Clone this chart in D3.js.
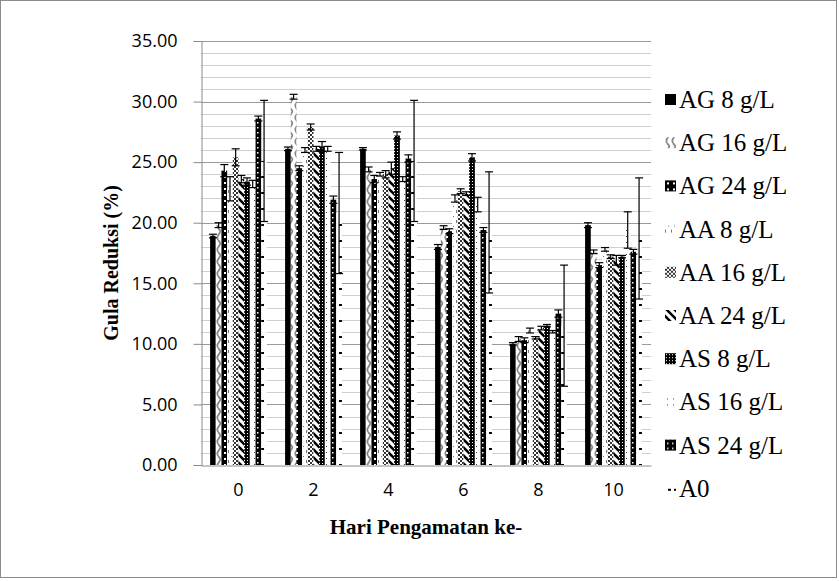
<!DOCTYPE html>
<html>
<head>
<meta charset="utf-8">
<script src="https://cdn.jsdelivr.net/npm/d3@7"></script>
<style>
  body { margin: 0; background: #fff; }
</style>
</head>
<body>
<div id="chart"></div>
<script>
// days of observation (x categories)
const days = ["0", "2", "4", "6", "8", "10"];
const seriesNames = ["AG 8 g/L", "AG 16 g/L", "AG 24 g/L", "AA 8 g/L", "AA 16 g/L",
  "AA 24 g/L", "AS 8 g/L", "AS 16 g/L", "AS 24 g/L", "A0"];
const yTicks = [0, 5, 10, 15, 20, 25, 30, 35];

// reducing sugar (%) per series, per day
const ag8 = [18.9, 26.1, 26.1, 18.0, 10.0, 19.8];
const ag16 = [19.8, 30.4, 24.4, 19.6, 10.4, 17.6];
const ag24 = [24.3, 24.5, 23.6, 19.3, 10.3, 16.5];
const aa8 = [22.8, 26.0, 24.0, 22.0, 11.1, 17.8];
const aa16 = [25.4, 27.9, 24.0, 22.6, 10.5, 17.2];
const aa24 = [23.6, 26.1, 24.5, 22.4, 11.3, 16.9];
const as8 = [23.4, 26.3, 27.2, 25.4, 11.5, 17.2];
const as16 = [23.2, 26.1, 23.6, 21.5, 11.0, 19.4];
const as24 = [28.6, 21.9, 25.3, 19.4, 12.5, 17.6];
const a0 = [25.1, 20.8, 25.1, 19.2, 11.5, 18.7];

// error bar half widths
const ag8Err = [0.15, 0.15, 0.1, 0.2, 0.1, 0.2];
const ag16Err = [0.2, 0.2, 0.2, 0.15, 0.2, 0.15];
const ag24Err = [0.5, 0.2, 0.3, 0.2, 0.2, 0.2];
const aa8Err = [1.0, 0.2, 0.15, 0.3, 0.2, 0.15];
const aa16Err = [0.7, 0.25, 0.3, 0.2, 0.1, 0.15];
const aa24Err = [0.3, 0.2, 0.5, 0.15, 0.15, 0.4];
const as8Err = [0.3, 0.4, 0.3, 0.3, 0.1, 0.1];
const as16Err = [0.3, 0.2, 0.2, 0.6, 0.1, 1.5];
const as24Err = [0.2, 0.3, 0.3, 0.2, 0.3, 0.2];
const a0Err = [5.0, 5.0, 5.0, 5.0, 5.0, 5.0];

const allValues = [ag8, ag16, ag24, aa8, aa16, aa24, as8, as16, as24, a0];
const allErrors = [ag8Err, ag16Err, ag24Err, aa8Err, aa16Err, aa24Err, as8Err, as16Err, as24Err, a0Err];

// flatten into one row per bar
const data = [];
days.forEach((d, i) => {
  seriesNames.forEach((s, j) => {
    data.push({ day: d, series: s, idx: j, value: allValues[j][i], err: allErrors[j][i] });
  });
});

const width = 839, height = 581;
const plot = { left: 201, top: 41, right: 651, bottom: 465 };

const svg = d3.select("#chart").append("svg")
  .attr("width", width)
  .attr("height", height);

// pattern fills, one per series (grayscale like the original)
const defs = svg.append("defs");
function pat(id, w, h, draw) {
  const p = defs.append("pattern").attr("id", id)
    .attr("patternUnits", "userSpaceOnUse").attr("width", w).attr("height", h);
  draw(p);
}
pat("p0", 4, 4, p => p.append("rect").attr("width", 4).attr("height", 4).attr("fill", "#000"));
pat("p1", 6, 12, p => {
  p.append("rect").attr("width", 6).attr("height", 12).attr("fill", "#fff");
  p.append("path").attr("d", "M2,0 C5,3 5,3 3,6 C1,9 1,9 2,12").attr("fill", "none").attr("stroke", "#888").attr("stroke-width", 1.8);
});
pat("p2", 6, 6, p => {
  p.append("rect").attr("width", 6).attr("height", 6).attr("fill", "#000");
  p.append("rect").attr("x", 2).attr("y", 2).attr("width", 2).attr("height", 2).attr("fill", "#fff");
});
pat("p3", 6, 10, p => {
  p.append("rect").attr("width", 6).attr("height", 10).attr("fill", "#fff");
  p.append("rect").attr("x", 0).attr("y", 0).attr("width", 1).attr("height", 3).attr("fill", "#777");
  p.append("rect").attr("x", 3).attr("y", 6).attr("width", 1).attr("height", 1).attr("fill", "#777");
});
pat("p4", 4, 4, p => {
  p.append("rect").attr("width", 4).attr("height", 4).attr("fill", "#fff");
  p.append("rect").attr("width", 2).attr("height", 2).attr("fill", "#333");
  p.append("rect").attr("x", 2).attr("y", 2).attr("width", 2).attr("height", 2).attr("fill", "#333");
});
pat("p5", 8, 8, p => {
  p.append("rect").attr("width", 8).attr("height", 8).attr("fill", "#fff");
  p.append("path").attr("d", "M-2,-2 L10,10 M-2,6 L2,10 M6,-2 L10,2").attr("stroke", "#000").attr("stroke-width", 2.6);
});
pat("p6", 3, 3, p => {
  p.append("rect").attr("width", 3).attr("height", 3).attr("fill", "#000");
  p.append("rect").attr("x", 1).attr("y", 1).attr("width", 1).attr("height", 1).attr("fill", "#fff");
});
pat("p7", 6, 6, p => {
  p.append("rect").attr("width", 6).attr("height", 6).attr("fill", "#fff");
  p.append("rect").attr("x", 2).attr("y", 2).attr("width", 1).attr("height", 1).attr("fill", "#444");
});
pat("p8", 5, 5, p => {
  p.append("rect").attr("width", 5).attr("height", 5).attr("fill", "#000");
  p.append("rect").attr("x", 2).attr("y", 2).attr("width", 1.5).attr("height", 1.5).attr("fill", "#fff");
});
pat("p9", 6, 16, p => {
  p.append("rect").attr("width", 6).attr("height", 16).attr("fill", "#fff");
  p.append("rect").attr("x", 3).attr("y", 0).attr("width", 3).attr("height", 2).attr("fill", "#000");
});

// outer frame
svg.append("rect")
  .attr("x", 0.5).attr("y", 0.5)
  .attr("width", 836).attr("height", 577)
  .attr("fill", "none").attr("stroke", "#8c8c8c");

// scales
const x0 = d3.scaleBand().domain(days).range([plot.left, plot.right]).padding(0);
const x1 = d3.scaleBand().domain(d3.range(seriesNames.length))
  .range([0, x0.bandwidth()]).paddingInner(0).paddingOuter(1.6);
const y = d3.scaleLinear().domain([0, 35]).range([plot.bottom, plot.top]);

// gridlines: minor every 1, major every 5
svg.append("g").selectAll("line")
  .data(d3.range(1, 36))
  .enter().append("line")
  .attr("x1", plot.left).attr("x2", plot.right)
  .attr("y1", d => Math.round(y(d)) + 0.5).attr("y2", d => Math.round(y(d)) + 0.5)
  .attr("stroke", d => d % 5 === 0 ? "#9a9a9a" : "#cfcfcf")
  .attr("stroke-width", 1);

// bars
svg.append("g").selectAll("rect")
  .data(data)
  .enter().append("rect")
  .attr("x", d => x0(d.day) + x1(d.idx))
  .attr("y", d => y(d.value))
  .attr("width", x1.bandwidth())
  .attr("height", d => y(0) - y(d.value))
  .attr("fill", d => `url(#p${d.idx})`);

// error bars
const cap = 4;
const eb = svg.append("g").attr("stroke", "#000").attr("stroke-width", 1.2);
eb.selectAll("line.v")
  .data(data).enter().append("line").attr("class", "v")
  .attr("x1", d => x0(d.day) + x1(d.idx) + x1.bandwidth() / 2)
  .attr("x2", d => x0(d.day) + x1(d.idx) + x1.bandwidth() / 2)
  .attr("y1", d => y(d.value + d.err))
  .attr("y2", d => y(d.value - d.err));
eb.selectAll("line.t")
  .data(data).enter().append("line").attr("class", "t")
  .attr("x1", d => x0(d.day) + x1(d.idx) + x1.bandwidth() / 2 - cap)
  .attr("x2", d => x0(d.day) + x1(d.idx) + x1.bandwidth() / 2 + cap)
  .attr("y1", d => y(d.value + d.err))
  .attr("y2", d => y(d.value + d.err));
eb.selectAll("line.b")
  .data(data).enter().append("line").attr("class", "b")
  .attr("x1", d => x0(d.day) + x1(d.idx) + x1.bandwidth() / 2 - cap)
  .attr("x2", d => x0(d.day) + x1(d.idx) + x1.bandwidth() / 2 + cap)
  .attr("y1", d => y(d.value - d.err))
  .attr("y2", d => y(d.value - d.err));

// y axis
const yAxis = svg.append("g")
  .attr("transform", `translate(${plot.left + 0.5},0)`)
  .call(d3.axisLeft(y).tickValues(yTicks).tickFormat(d3.format(".2f")).tickSize(8).tickPadding(16));
yAxis.select(".domain").attr("stroke", "#8c8c8c");
yAxis.selectAll(".tick line").attr("stroke", "#8c8c8c");
yAxis.selectAll(".tick text")
  .style("font-family", "'Open Sans', sans-serif")
  .style("font-size", "18px")
  .attr("fill", "#000");

// x axis
const xAxis = svg.append("g")
  .attr("transform", `translate(0,${plot.bottom + 0.5})`)
  .call(d3.axisBottom(x0).tickSize(0).tickPadding(18));
xAxis.select(".domain").attr("stroke", "#8c8c8c");
xAxis.selectAll(".tick text")
  .style("font-family", "'Open Sans', sans-serif")
  .style("font-size", "18px")
  .attr("fill", "#000");

// axis titles
svg.append("text")
  .attr("transform", `translate(118,${(plot.top + plot.bottom) / 2 + 10}) rotate(-90)`)
  .attr("text-anchor", "middle")
  .style("font-family", "'Liberation Serif', serif")
  .style("font-weight", "bold")
  .style("font-size", "20px")
  .text("Gula Reduksi (%)");

svg.append("text")
  .attr("x", (plot.left + plot.right) / 2)
  .attr("y", 534)
  .attr("text-anchor", "middle")
  .style("font-family", "'Liberation Serif', serif")
  .style("font-weight", "bold")
  .style("font-size", "21px")
  .text("Hari Pengamatan ke-");

// legend
const legend = svg.append("g");
const items = legend.selectAll("g")
  .data(seriesNames)
  .enter().append("g")
  .attr("transform", (d, i) => `translate(665,${100 + i * 43.2})`);
items.append("rect")
  .attr("x", 0).attr("y", -6)
  .attr("width", 11).attr("height", 11)
  .attr("fill", (d, i) => `url(#p${i})`);
items.append("text")
  .attr("x", 14).attr("y", 8)
  .style("font-family", "'Liberation Serif', serif")
  .style("font-size", "25px")
  .text(d => d);
</script>
</body>
</html>
